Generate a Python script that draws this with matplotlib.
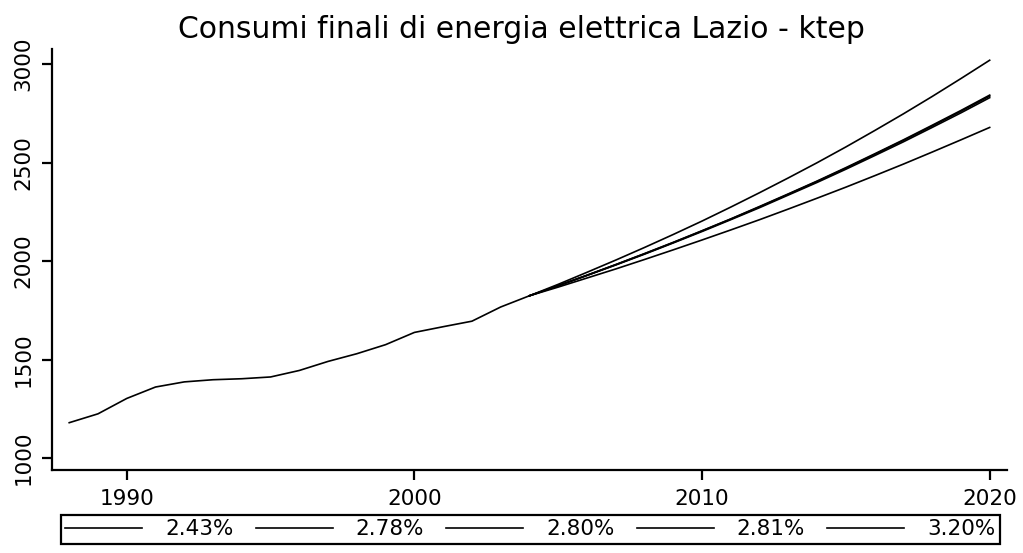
import matplotlib
matplotlib.use("Agg")
import matplotlib.pyplot as plt

# Historical final electricity consumption, Lazio (ktep)
years_hist = list(range(1988, 2005))
consumi_hist = [1180, 1225, 1303, 1361, 1387, 1398, 1403, 1412, 1445,
                1491, 1530, 1576, 1638, 1667, 1695, 1767, 1824]

# Projection scenarios 2004-2020
years_proj = list(range(2004, 2021))
proj_243 = [1824, 1868, 1914, 1960, 2008, 2057, 2107, 2158, 2210,
            2264, 2319, 2375, 2433, 2492, 2553, 2615, 2678]
proj_278 = [1824, 1875, 1927, 1980, 2035, 2092, 2150, 2210, 2271,
            2335, 2399, 2466, 2535, 2605, 2678, 2752, 2829]
proj_280 = [1824, 1875, 1928, 1982, 2037, 2094, 2153, 2213, 2275,
            2339, 2404, 2471, 2541, 2612, 2685, 2760, 2837]
proj_281 = [1824, 1875, 1928, 1982, 2038, 2095, 2154, 2214, 2277,
            2341, 2406, 2474, 2544, 2615, 2689, 2764, 2842]
proj_320 = [1824, 1882, 1943, 2005, 2069, 2135, 2203, 2274, 2347,
            2422, 2499, 2579, 2662, 2747, 2835, 2926, 3019]

scenarios = [("2.43%", proj_243), ("2.78%", proj_278), ("2.80%", proj_280),
             ("2.81%", proj_281), ("3.20%", proj_320)]

title = "Consumi finali di energia elettrica Lazio - ktep"
x_ticks = [1990, 2000, 2010, 2020]
y_ticks = [1000, 1500, 2000, 2500, 3000]

plt.rcParams["font.family"] = "DejaVu Sans"

fig = plt.figure(figsize=(10.23, 5.53), dpi=100)
ax = fig.add_axes([0.0508, 0.1501, 0.9335, 0.7613])

ax.plot(years_hist, consumi_hist, color="black", linewidth=1.2)
for label, values in scenarios:
    ax.plot(years_proj, values, color="black", linewidth=1.2, label=label)

ax.set_xlim(1987.4, 2020.6)
ax.set_ylim(940, 3076)
ax.set_xticks(x_ticks)
ax.set_yticks(y_ticks)

for side in ["top", "right"]:
    ax.spines[side].set_visible(False)
for side in ["left", "bottom"]:
    ax.spines[side].set_linewidth(1.6)
    ax.spines[side].set_color("black")

ax.tick_params(axis="both", direction="out", length=7, width=1.6,
               pad=6.5, labelsize=15.5, colors="black")
ax.tick_params(axis="y", labelrotation=90)
plt.setp(ax.get_yticklabels(), va="center")

fig.text(0.510, 1 - 38 / 553, title, ha="center", va="baseline",
         fontsize=21.5, color="black")

leg = ax.legend(loc="upper left", bbox_to_anchor=(61 / 1023, 1 - 515 / 553),
                bbox_transform=fig.transFigure, ncol=5, fontsize=15.5,
                frameon=True, fancybox=False, framealpha=1,
                edgecolor="black", borderaxespad=0, borderpad=0.2,
                handlelength=3.58, handletextpad=1.07, columnspacing=1.02)
leg.get_frame().set_linewidth(1.6)

fig.savefig("out.png", dpi=100, facecolor="white")
